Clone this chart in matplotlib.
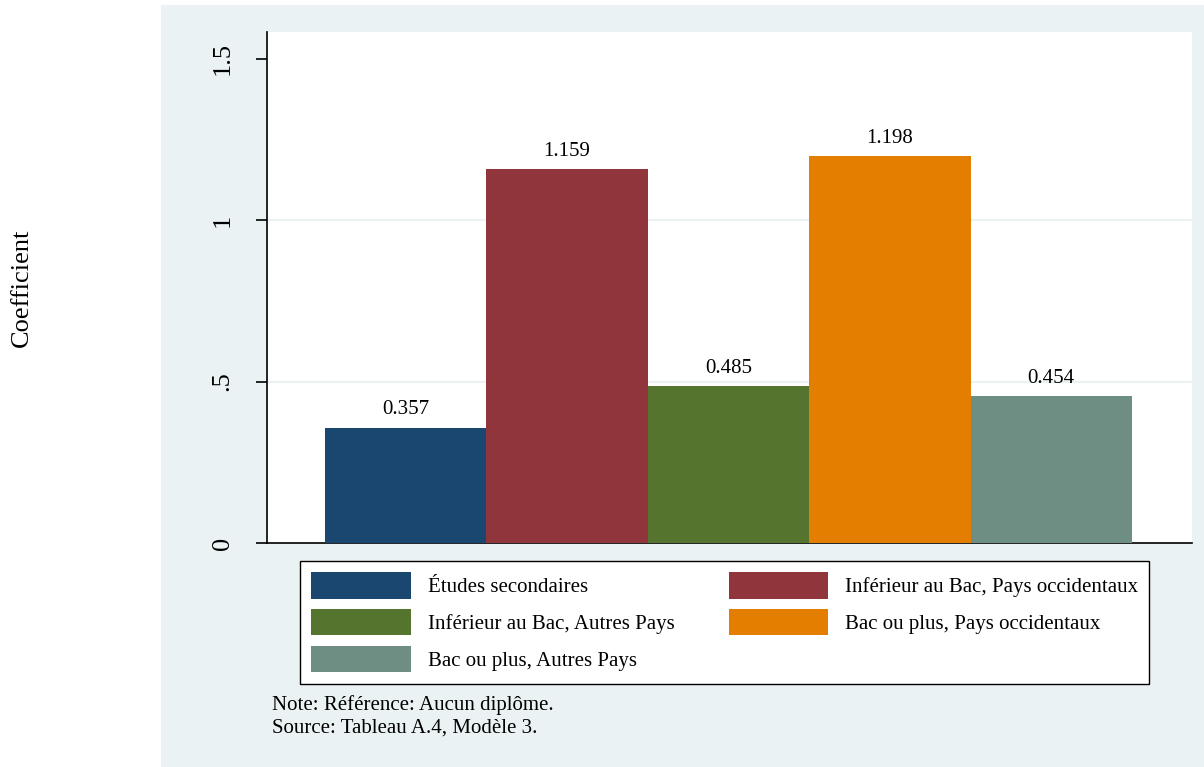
import matplotlib
matplotlib.use("Agg")
import matplotlib.pyplot as plt
from matplotlib.patches import Rectangle, Patch

plt.rcParams['font.family'] = ['Liberation Serif', 'DejaVu Serif']

categories = ["Études secondaires",
              "Inférieur au Bac, Pays occidentaux",
              "Inférieur au Bac, Autres Pays",
              "Bac ou plus, Pays occidentaux",
              "Bac ou plus, Autres Pays"]
values = [0.357, 1.159, 0.485, 1.198, 0.454]
value_labels = ["0.357", "1.159", "0.485", "1.198", "0.454"]
colors = ["#1a476f", "#90353b", "#55752f", "#e37e00", "#6e8e84"]
yticks = [0, 0.5, 1, 1.5]
ytick_labels = ["0", ".5", "1", "1.5"]
ylabel = "Coefficient"
note_lines = ["Note: Référence: Aucun diplôme.", "Source: Tableau A.4, Modèle 3."]

W, H = 1204, 767
bg = "#eaf2f3"
fig = plt.figure(figsize=(W / 100, H / 100), dpi=100, facecolor="white")
fig.patches.append(Rectangle((161 / W, 0), 1 - 161 / W, 1 - 5 / H,
                             transform=fig.transFigure, facecolor=bg,
                             edgecolor="none", zorder=-10))

ax = fig.add_axes([267 / W, 1 - 543 / H, (1192 - 267) / W, (543 - 32) / H])
ax.set_zorder(2)
ax.set_facecolor("white")
x = list(range(len(values)))
bars = ax.bar(x, values, width=1.0, color=colors, edgecolor="none", zorder=3)
for xi, v, lab in zip(x, values, value_labels):
    ax.annotate(lab, (xi, v), xytext=(0, 6), textcoords="offset points",
                ha="center", va="bottom", fontsize=15, zorder=4)

for t in yticks[1:-1]:
    ax.axhline(t, color=bg, lw=1.5, zorder=1)

ax.set_xlim(-0.859, 4.872)
ax.set_ylim(0, 1.583)
ax.set_xticks([])
ax.set_yticks(yticks)
ax.set_yticklabels(ytick_labels, rotation=90, va="center", fontsize=19)
ax.tick_params(axis="y", length=8, width=1.2, pad=16, color="black")
for s in ["top", "right"]:
    ax.spines[s].set_visible(False)
for s in ["left", "bottom"]:
    ax.spines[s].set_linewidth(1.2)
    ax.spines[s].set_color("black")

fig.text(22 / W, 1 - 288 / H, ylabel, rotation=90, ha="center", va="center",
         fontsize=19)

handles = [Patch(facecolor=c, edgecolor="none") for c in colors]
order = [0, 2, 4, 1, 3]
leg = fig.legend([handles[i] for i in order], [categories[i] for i in order],
                 loc="upper left", bbox_to_anchor=(300 / W, 1 - 561 / H),
                 ncol=2, fontsize=15, frameon=True, fancybox=False,
                 edgecolor="black", facecolor="white", framealpha=1,
                 borderpad=0.55, borderaxespad=0, handlelength=4.76,
                 handleheight=1.55, handletextpad=0.82, columnspacing=2.6,
                 labelspacing=0.52)
leg.get_frame().set_linewidth(1.0)
leg.set_zorder(3)

fig.text(272 / W, 1 - 710 / H, note_lines[0], ha="left", va="baseline", fontsize=15)
fig.text(272 / W, 1 - 733 / H, note_lines[1], ha="left", va="baseline", fontsize=15)

fig.savefig("out.png", dpi=100, facecolor="white")
